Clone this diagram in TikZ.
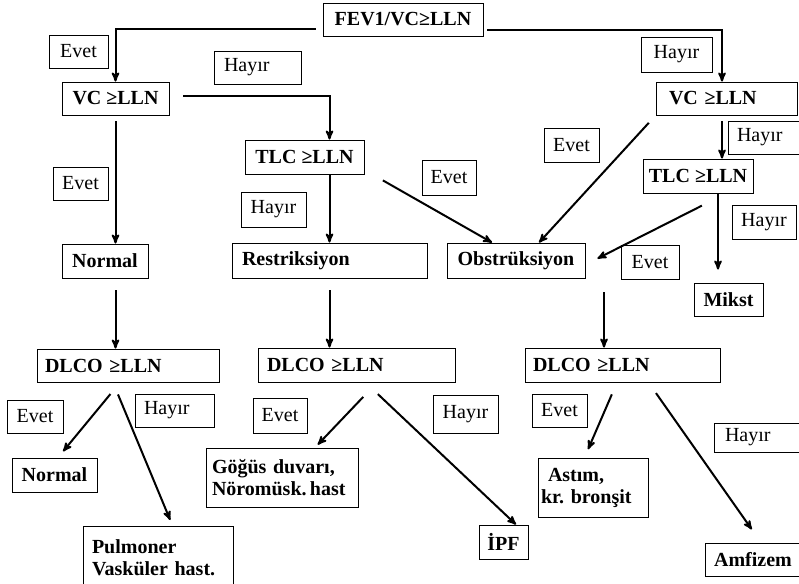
\documentclass[tikz,border=0pt]{standalone}
\usepackage{fontspec}
\setmainfont{Liberation Serif}
\usepackage{tikz}
\usetikzlibrary{arrows}
\usetikzlibrary{positioning}
\newcommand\chartfont{\fontsize{20}{22}\selectfont\frenchspacing}

\begin{document}
\begin{tikzpicture}[-,>=stealth',thick,x=1pt,y=-1pt,
    test node/.style={draw,line width=0.9pt,font=\chartfont\bfseries,inner sep=3pt,minimum height=33pt},
    answer node/.style={draw,line width=0.7pt,font=\chartfont,inner sep=3pt,minimum height=33pt},
    flow/.style={->,line width=2pt}]
      \useasboundingbox (0,0) rectangle (799,583);

      % tests and results
      \node [test node, minimum width=160pt] (fev) at (403,19.5) {FEV1/VC≥LLN};
      \node [test node, minimum width=107pt] (vcl) at (115.5,98.5) {VC ≥LLN};
      \node [test node, text width=115pt, inner xsep=13pt, align=left] (vcr) at (726.5,98.5) {VC ≥LLN};
      \node [test node, minimum width=119pt, minimum height=34pt] (tlcm) at (304.5,157) {TLC ≥LLN};
      \node [test node, minimum width=110pt, minimum height=34pt] (tlcr) at (698,176) {TLC ≥LLN};
      \node [test node, minimum width=86pt, minimum height=34pt] (norm1) at (105,261) {Normal};
      \node [test node, text width=175pt, inner xsep=10pt, align=left, minimum height=35pt] (restr) at (329.5,260.5) {Restriksiyon};
      \node [test node, minimum width=138pt, minimum height=35pt] (obstr) at (516,260.5) {Obstrüksiyon};
      \node [test node, minimum width=69pt] (mikst) at (728.5,299.5) {Mikst};
      \node [test node, text width=166pt, inner xsep=8pt, align=left] (dlcol) at (128,365.5) {DLCO ≥LLN};
      \node [test node, text width=179pt, inner xsep=9pt, align=left, minimum height=34pt] (dlcom) at (356.5,365) {DLCO ≥LLN};
      \node [test node, text width=179pt, inner xsep=8pt, align=left, minimum height=34pt] (dlcor) at (622.5,365) {DLCO ≥LLN};
      \node [test node, minimum width=85pt, minimum height=34pt] (norm2) at (54.5,475) {Normal};
      \node [test node, text width=132pt, inner xsep=9pt, align=left, minimum height=64pt] (pulm) at (158,558) {Pulmoner\\Vasküler hast.};
      \node [test node, text width=140pt, inner xsep=6pt, align=left, minimum height=59pt] (gogus) at (282,477.5) {Göğüs duvarı,\\Nöromüsk.\,hast};
      \node [test node, minimum width=49pt, minimum height=34pt] (ipf) at (503.5,542) {İPF};
      \node [test node, text width=104pt, inner xsep=3pt, align=left, minimum height=59pt] (astim) at (593,487.5) {\hspace{7pt}Astım,\\kr. bronşit};
      \node [test node, minimum width=96pt] (amf) at (753,559.5) {Amfizem};

      % answers
      \node [answer node, minimum width=59pt] (e1) at (78.5,51.5) {Evet};
      \node [answer node, text width=67pt, inner xsep=10pt, align=left] (h1) at (257.5,67.5) {Hayır};
      \node [answer node, minimum width=71pt, minimum height=35pt] (h2) at (676.5,54.5) {Hayır};
      \node [answer node, minimum width=55pt] (e2) at (80.5,183.5) {Evet};
      \node [answer node, text width=53pt, inner xsep=9pt, align=left] (h3) at (763.5,137.5) {Hayır};
      \node [answer node, minimum width=55pt, minimum height=34pt] (e3) at (571.5,145) {Evet};
      \node [answer node, minimum width=54pt, minimum height=35pt] (e4) at (449,177.5) {Evet};
      \node [answer node, minimum width=65pt, minimum height=35pt] (h4) at (273.5,209.5) {Hayır};
      \node [answer node, minimum width=64pt, minimum height=34pt] (h5) at (764,222) {Hayır};
      \node [answer node, minimum width=58pt, minimum height=34pt] (e5) at (650,262) {Evet};
      \node [answer node, minimum width=56pt] (e6) at (35,416.5) {Evet};
      \node [answer node, text width=61pt, inner xsep=9pt, align=left] (h6) at (174.5,410.5) {Hayır};
      \node [answer node, minimum width=54pt, minimum height=35pt] (e7) at (280,415.5) {Evet};
      \node [answer node, minimum width=65pt, minimum height=38pt] (h7) at (465.5,414) {Hayır};
      \node [answer node, minimum width=55pt] (e8) at (559.5,410.5) {Evet};
      \node [answer node, text width=65pt, inner xsep=11pt, align=left, minimum height=29pt] (h8) at (757.5,437.5) {Hayır};

      % upper part
      \draw[flow, shorten <=7pt] ([yshift=-10pt]fev.west) -| (vcl.north);
      \draw[flow, shorten <=4pt] ([yshift=-11pt]fev.east) -| ([xshift=-4.5pt]vcr.north);
      \draw[flow, shorten <=14pt] ([yshift=2.5pt]vcl.east) -| (restr.north |- tlcm.north);
      \draw[flow, shorten <=6pt] (vcl.south) -- (vcl.south |- norm1.north);
      \draw[flow] (restr.north |- tlcm.south) -- (restr.north);
      \draw[flow, shorten <=6pt] ([xshift=-4.5pt]vcr.south) -- ([xshift=-4.5pt]vcr.south |- tlcr.north);
      \draw[flow, shorten <=12pt] ([xshift=8pt]tlcm.south east) -- ([xshift=-24pt]obstr.north);
      \draw[flow, shorten <=10pt] (vcr.south west) -- ([xshift=23pt]obstr.north);
      \draw[flow, shorten <=27pt] ([xshift=28pt]tlcr.south) -- ([xshift=12pt,yshift=2pt]obstr.east);
      \draw[flow, shorten >=13pt] ([xshift=20pt]tlcr.south) -- ([xshift=20pt]tlcr.south |- mikst.north);

      % to DLCO
      \draw[flow, shorten <=12pt] (vcl.south |- norm1.south) -- (vcl.south |- dlcol.north);
      \draw[flow, shorten <=12pt] (restr.south) -- (restr.south |- dlcom.north);
      \draw[flow, shorten <=14pt] ([xshift=-18.5pt]dlcor.north |- obstr.south) -- ([xshift=-18.5pt]dlcor.north);

      % lower part
      \draw[flow, shorten <=15pt, shorten >=8pt] ([xshift=-8pt]dlcol.south) -- ([xshift=3.5pt]norm2.north);
      \draw[flow, shorten <=13pt, shorten >=6pt] ([xshift=-15pt]dlcol.south) -- ([xshift=14.5pt]pulm.north);
      \draw[flow, shorten <=20pt, shorten >=4pt] ([xshift=20.5pt]dlcom.south) -- ([xshift=33pt]gogus.north);
      \draw[flow, shorten <=17pt] ([xshift=9pt]dlcom.south) -- ([xshift=12.5pt]ipf.north);
      \draw[flow, shorten <=13pt, shorten >=9pt] ([xshift=-5.5pt]dlcor.south) -- ([xshift=-8.5pt]astim.north);
      \draw[flow, shorten <=13pt, shorten >=16pt] ([xshift=26pt]dlcor.south) -- ([xshift=8pt]amf.north);

    \end{tikzpicture}
\end{document}
